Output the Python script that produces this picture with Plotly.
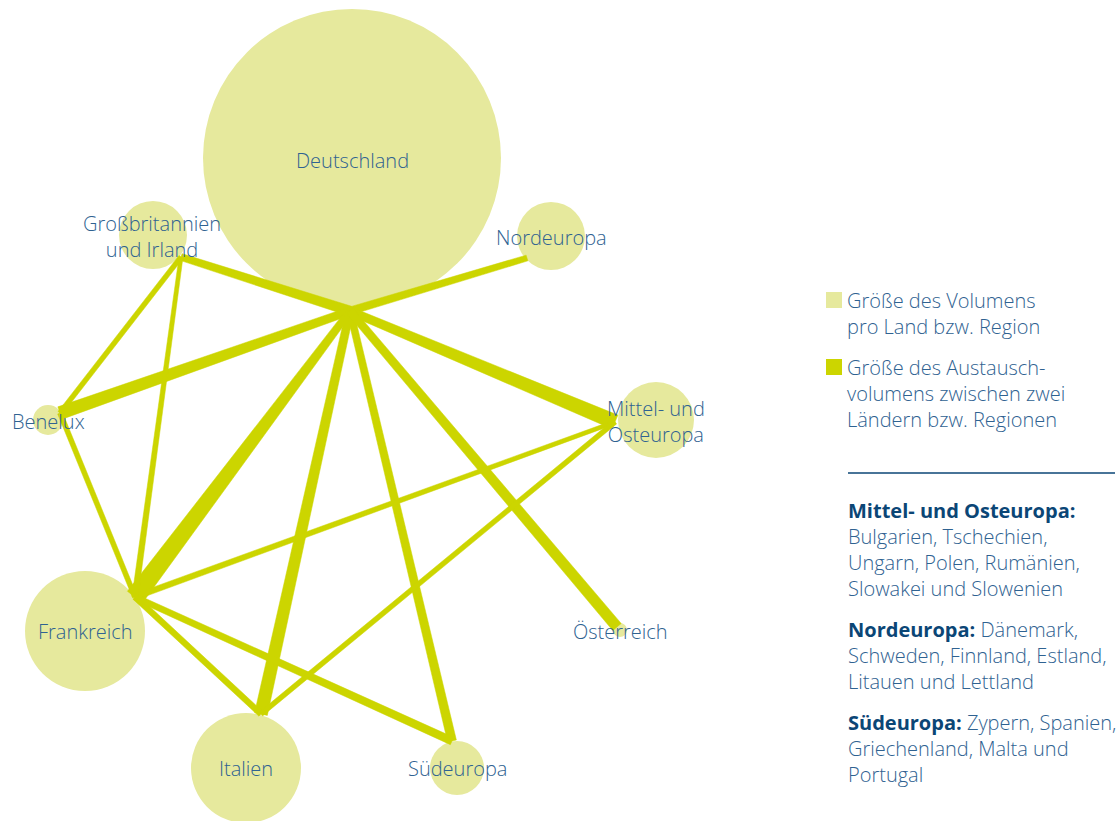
import numpy as np
import plotly.graph_objects as go

# ---------------- data ----------------
node_names = ["Deutschland", "Großbritannien und Irland", "Nordeuropa", "Benelux",
              "Mittel- und Osteuropa", "Frankreich", "Italien", "Südeuropa", "Österreich"]
node_labels = ["Deutschland", "Großbritannien<br>und Irland", "Nordeuropa", "Benelux",
               "Mittel- und<br>Osteuropa", "Frankreich", "Italien", "Südeuropa", "Österreich"]
node_x = [352, 153, 551, 48, 656, 85, 246, 457, 620]
node_y = [158, 235, 236, 420, 420, 631, 768, 768, 630]
node_size = [149, 34, 34, 15, 38, 60, 55, 27, 7]          # radius ~ volume per region
label_x = [352, 152, 551, 48, 656, 85, 246, 457, 620]
label_y = [160, 236, 237, 421, 421, 631, 768, 768, 631]

anchor_x = [350, 181, 527, 60, 615, 135, 261, 452, 617]
anchor_y = [311, 257, 258, 413, 422, 597, 714, 741, 627]

edge_source = ["Deutschland"] * 8 + ["Großbritannien und Irland", "Großbritannien und Irland",
               "Benelux", "Frankreich", "Frankreich", "Frankreich", "Italien"]
edge_target = ["Großbritannien und Irland", "Nordeuropa", "Benelux", "Mittel- und Osteuropa",
               "Frankreich", "Italien", "Südeuropa", "Österreich",
               "Benelux", "Frankreich", "Frankreich", "Mittel- und Osteuropa",
               "Italien", "Südeuropa", "Mittel- und Osteuropa"]
edge_vol_source = [10, 8, 8, 8, 7, 8, 7, 8, 5, 4, 5, 6, 6, 6, 5]
edge_vol_target = [7, 6, 13, 15, 19, 13, 9, 11, 5, 6, 5, 4, 6, 8, 5]

legend_items = ["Größe des Volumens<br>pro Land bzw. Region",
                "Größe des Austausch-<br>volumens zwischen zwei<br>Ländern bzw. Regionen"]

note_heads = ["Mittel- und Osteuropa:", "Nordeuropa:", "Südeuropa:"]
note_lines = [["", "Bulgarien, Tschechien,", "Ungarn, Polen, Rumänien,", "Slowakei und Slowenien"],
              [" Dänemark,", "Schweden, Finnland, Estland,", "Litauen und Lettland"],
              [" Zypern, Spanien,", "Griechenland, Malta und", "Portugal"]]

# ---------------- style ----------------
NODE_COL = "#e6e99d"
EDGE_COL = "#ccd500"
TXT_COL = "#2f6291"
HEAD_COL = "#0b4676"
FONT = "Open Sans"
FS = 20
W, H = 1117, 821

fig = go.Figure()
idx = {n: i for i, n in enumerate(node_names)}

# edges as tapered bands
for s, t, w0, w1 in zip(edge_source, edge_target, edge_vol_source, edge_vol_target):
    i, j = idx[s], idx[t]
    p0 = np.array([anchor_x[i], anchor_y[i]], float)
    p1 = np.array([anchor_x[j], anchor_y[j]], float)
    d = p1 - p0
    n = np.array([-d[1], d[0]]) / np.hypot(*d)
    poly = [p0 + n * w0 / 2, p1 + n * w1 / 2, p1 - n * w1 / 2, p0 - n * w0 / 2, p0 + n * w0 / 2]
    fig.add_trace(go.Scatter(x=[p[0] for p in poly], y=[p[1] for p in poly],
                             mode="lines", fill="toself", fillcolor=EDGE_COL,
                             line=dict(color=EDGE_COL, width=0.5),
                             hoverinfo="skip", showlegend=False))

shapes = []
for x, y, r in zip(node_x, node_y, node_size):
    shapes.append(dict(type="circle", xref="x", yref="y", x0=x - r, x1=x + r, y0=y - r, y1=y + r,
                       fillcolor=NODE_COL, line=dict(width=0), layer="below"))

annotations = []
for lx, ly, lab in zip(label_x, label_y, node_labels):
    annotations.append(dict(x=lx, y=ly, xref="x", yref="y", text=lab, showarrow=False,
                            xanchor="center", yanchor="middle",
                            font=dict(family=FONT, size=FS, color=TXT_COL, weight=300)))

# legend
leg_y = [300, 367]
leg_cols = [NODE_COL, EDGE_COL]
line_h = 26
for ly, col, txt in zip(leg_y, leg_cols, legend_items):
    shapes.append(dict(type="rect", xref="x", yref="y", x0=826, x1=842, y0=ly - 8, y1=ly + 8,
                       fillcolor=col, line=dict(width=0)))
    for k, part in enumerate(txt.split("<br>")):
        annotations.append(dict(x=845, y=ly + k * line_h, xref="x", yref="y", text=part,
                                showarrow=False, xanchor="left", yanchor="middle",
                                font=dict(family=FONT, size=FS, color=TXT_COL, weight=300)))

# separator
shapes.append(dict(type="line", xref="x", yref="y", x0=848, x1=1115, y0=473, y1=473,
                   line=dict(color=HEAD_COL, width=1.5)))

# notes
note_y = [510, 629, 722]
for ny, head, lines in zip(note_y, note_heads, note_lines):
    for k, part in enumerate(lines):
        if k == 0:
            txt = f"<span style='color:{HEAD_COL}'><b>{head}</b></span>{part}"
        else:
            txt = part
        annotations.append(dict(x=846, y=ny + k * line_h, xref="x", yref="y", text=txt,
                                showarrow=False, xanchor="left", yanchor="middle",
                                font=dict(family=FONT, size=FS, color=TXT_COL, weight=300)))

fig.update_layout(width=W, height=H, margin=dict(l=0, r=0, t=0, b=0),
                  paper_bgcolor="white", plot_bgcolor="white",
                  xaxis=dict(range=[0, W], visible=False, fixedrange=True),
                  yaxis=dict(range=[H, 0], visible=False, fixedrange=True),
                  shapes=shapes, annotations=annotations, showlegend=False)

fig.write_html("out.html", config={"displayModeBar": False},
               post_script="document.body.style.margin='0';document.body.style.overflow='hidden';")
